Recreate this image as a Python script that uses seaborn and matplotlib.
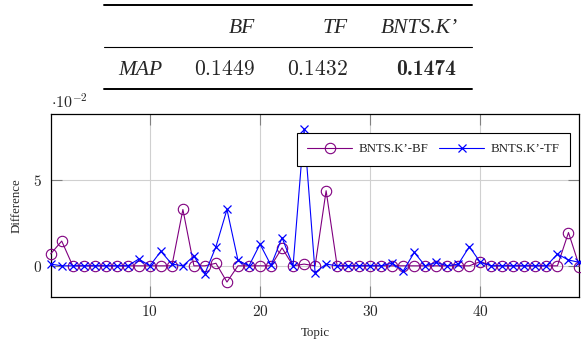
import os
import matplotlib
matplotlib.use("Agg")
import matplotlib.pyplot as plt
from matplotlib.lines import Line2D
from matplotlib.font_manager import FontProperties
import seaborn as sns
import pandas as pd

# ---- data ----
table_cols = ["BF", "TF", "BNTS.K\u2019"]
table_row_label = "MAP"
table_vals = ["0.1449", "0.1432", "0.1474"]
best_col = 2

topics = list(range(1, 50))
diff_bf = [0.7, 1.45, 0, 0, 0, 0, 0, 0, 0, 0,
           0, 0, 3.3, 0, 0, 0.15, -0.95, 0, 0, 0,
           0, 1.05, 0, 0.1, 0, 4.4, 0, 0, 0, 0,
           0, 0, 0, 0, 0, 0, 0, 0, 0, 0.25,
           0, 0, 0, 0, 0, 0, 0, 1.95, -0.05]
diff_tf = [0.1, 0.0, 0, 0, 0, 0, 0, 0, 0.4, 0,
           0.85, 0.1, 0, 0.57, -0.46, 1.12, 3.3, 0.32, 0, 1.27,
           0.03, 1.65, 0, 8.0, -0.4, 0.1, 0, 0, 0, 0,
           0, 0.16, -0.3, 0.78, 0, 0.2, 0, 0.1, 1.12, 0.2,
           0, 0, 0, 0, 0, 0, 0.69, 0.34, 0.2]
series_labels = ["BNTS.K\u2019-BF", "BNTS.K\u2019-TF"]
xticks = [10, 20, 30, 40]
yticks = [0, 5]

sns.set_style("white")
plt.rcParams["mathtext.fontset"] = "cm"
plt.rcParams["font.family"] = ["Liberation Serif", "DejaVu Serif"]

W, H = 581, 345
fig = plt.figure(figsize=(W / 100, H / 100), dpi=100)

def fx(x):
    return x / W

def fy(y):
    return 1 - y / H

cmb_path = os.path.join(matplotlib.get_data_path(), "fonts", "ttf", "cmb10.ttf")
bold_fp = FontProperties(fname=cmb_path, size=15.5) if os.path.exists(cmb_path) else FontProperties(family="Liberation Serif", weight="bold", size=15.5)

# ---- table ----
x0, x1 = 104, 472
fig.add_artist(Line2D([fx(x0), fx(x1)], [fy(5), fy(5)], transform=fig.transFigure, color="black", lw=1.4))
fig.add_artist(Line2D([fx(x0), fx(x1)], [fy(47), fy(47)], transform=fig.transFigure, color="black", lw=0.8))
fig.add_artist(Line2D([fx(x0), fx(x1)], [fy(88.5), fy(88.5)], transform=fig.transFigure, color="black", lw=1.4))
col_right = [255, 348, 458]
for c, xr in zip(table_cols, col_right):
    fig.text(fx(xr), fy(33), c, ha="right", va="baseline", fontsize=15.5, style="italic")
fig.text(fx(118), fy(75), table_row_label, ha="left", va="baseline", fontsize=15.5, style="italic")
for i, (v, xr) in enumerate(zip(table_vals, col_right)):
    if i == best_col:
        fig.text(fx(xr - 2), fy(75), v, ha="right", va="baseline", fontproperties=bold_fp)
    else:
        fig.text(fx(xr), fy(75), r"$%s$" % v, ha="right", va="baseline", fontsize=15.5)

# ---- plot ----
ax = fig.add_axes([50.7 / W, 1 - 297.3 / H, 528.8 / W, 183.3 / H])
df = pd.DataFrame({"Topic": topics, "bf": diff_bf, "tf": diff_tf})

ax.grid(True, color="#d0d0d0", lw=0.8)
ax.set_axisbelow(True)

sns.lineplot(data=df, x="Topic", y="bf", ax=ax, color="#800080", lw=0.8,
             marker="o", markersize=7.5, markerfacecolor="none",
             markeredgecolor="#800080", markeredgewidth=0.8,
             label=series_labels[0], clip_on=False, zorder=3)
sns.lineplot(data=df, x="Topic", y="tf", ax=ax, color="#0000ff", lw=0.8,
             marker="x", markersize=5.5, markeredgecolor="#0000ff",
             markeredgewidth=0.9, label=series_labels[1], clip_on=False, zorder=4)

ax.set_xlim(1, 49)
ymin, ymax = min(diff_bf + diff_tf), max(diff_bf + diff_tf)
rng = ymax - ymin
ax.set_ylim(ymin - 0.1 * rng, ymax + 0.1 * rng)

ax.set_xticks(xticks)
ax.set_xticklabels([r"$%d$" % t for t in xticks])
ax.set_yticks(yticks)
ax.set_yticklabels([r"$%d$" % t for t in yticks])
ax.tick_params(axis="both", direction="in", length=7.8, width=0.8, color="#808080",
               labelsize=11, top=True, right=True, bottom=True, left=True)
ax.tick_params(axis="x", pad=5)
ax.tick_params(axis="y", pad=6.5)

for sp in ax.spines.values():
    sp.set_visible(True)
    sp.set_color("black")
    sp.set_linewidth(0.9)

ax.set_xlabel("Topic", fontsize=9.3)
ax.set_ylabel("Difference", fontsize=9.3)
ax.xaxis.set_label_coords(0.5, -0.16)
ax.yaxis.set_label_coords(-0.054, 0.5)

fig.text(fx(51), fy(108), r"$\cdot 10^{-2}$", ha="left", va="baseline", fontsize=11.5)

leg = ax.legend(loc="upper right", bbox_to_anchor=(fx(570), fy(133)),
                bbox_transform=fig.transFigure, ncol=2, fontsize=9.3,
                frameon=True, fancybox=False, framealpha=1, edgecolor="black",
                borderaxespad=0, handlelength=3.5, handletextpad=0.5,
                columnspacing=0.8, borderpad=0.8)
leg.get_frame().set_linewidth(0.8)

fig.savefig("out.png", dpi=100)
